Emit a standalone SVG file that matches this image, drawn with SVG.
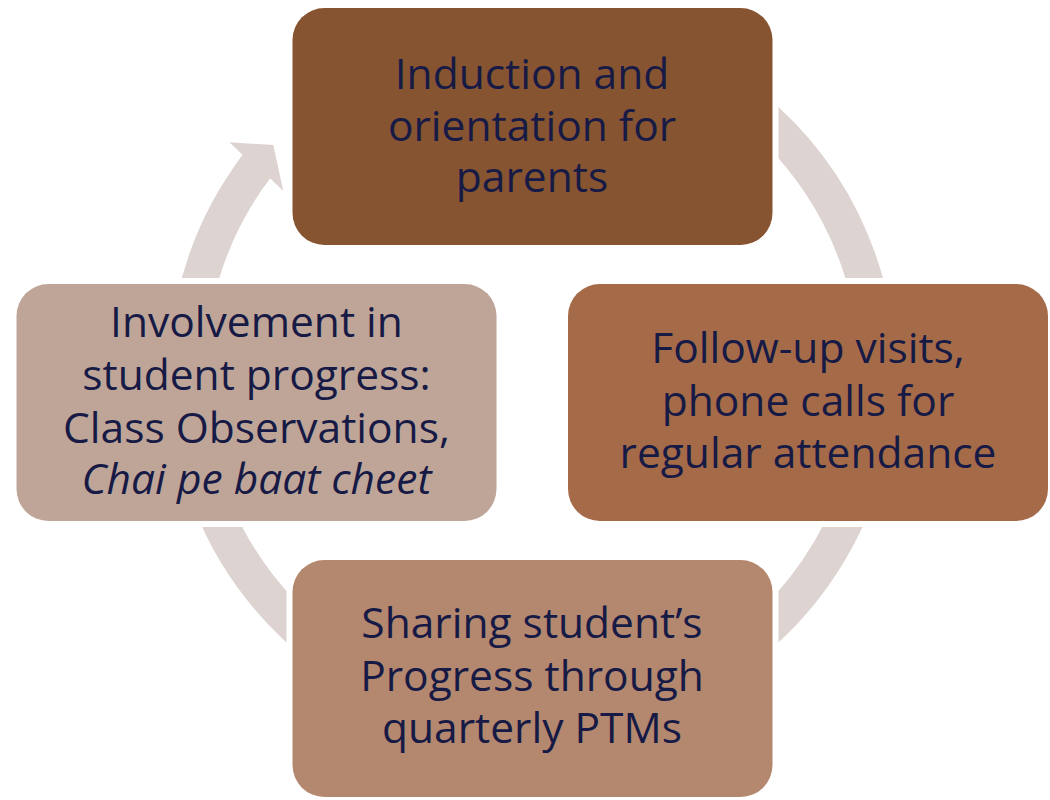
<svg xmlns="http://www.w3.org/2000/svg" width="1050" height="800" viewBox="0 0 1050 800">
  <style>
    .box { stroke: #ffffff; stroke-width: 12; paint-order: stroke fill; }
    .lbl { font-family: "Open Sans", "Noto Sans", "Liberation Sans", sans-serif; font-size: 42.5px; fill: #161a45; text-anchor: middle; }
    .it { font-style: italic; }
    .ring { fill: none; stroke: #ddd4d1; stroke-width: 36; }
  </style>
  <rect width="1050" height="800" fill="#ffffff"/>
  <g id="connectors">
    <path class="ring" d="M 471.9 34.3 A 345.6 345.6 0 1 1 256.4 166.5"/>
    <polygon fill="#ddd4d1" points="234.2,166.4 242.7,155 229.3,142.3 273.3,145 283.3,191 270,178.3 263.6,187.1"/>
  </g>
  <g id="node-induction">
    <rect class="box" x="292.5" y="8" width="480" height="237" rx="32" fill="#875431"/>
    <text class="lbl" x="532" y="89">Induction and</text>
    <text class="lbl" x="532" y="140.5">orientation for</text>
    <text class="lbl" x="532" y="192">parents</text>
  </g>
  <g id="node-followup">
    <rect class="box" x="568" y="284" width="480" height="237" rx="32" fill="#a56b48"/>
    <text class="lbl" x="808" y="363.3">Follow-up visits,</text>
    <text class="lbl" x="808" y="416">phone calls for</text>
    <text class="lbl" x="808" y="468.3">regular attendance</text>
  </g>
  <g id="node-sharing">
    <rect class="box" x="292.5" y="560" width="480" height="237" rx="32" fill="#b4876f"/>
    <text class="lbl" x="532" y="638.3">Sharing student’s</text>
    <text class="lbl" x="532" y="691">Progress through</text>
    <text class="lbl" x="532" y="743.3">quarterly PTMs</text>
  </g>
  <g id="node-involvement">
    <rect class="box" x="16.5" y="284" width="480" height="237" rx="32" fill="#bfa598"/>
    <text class="lbl" x="256.5" y="337.3">Involvement in</text>
    <text class="lbl" x="256.5" y="390">student progress:</text>
    <text class="lbl" x="256.5" y="443">Class Observations,</text>
    <text class="lbl it" x="256.5" y="494">Chai pe baat cheet</text>
  </g>
</svg>
